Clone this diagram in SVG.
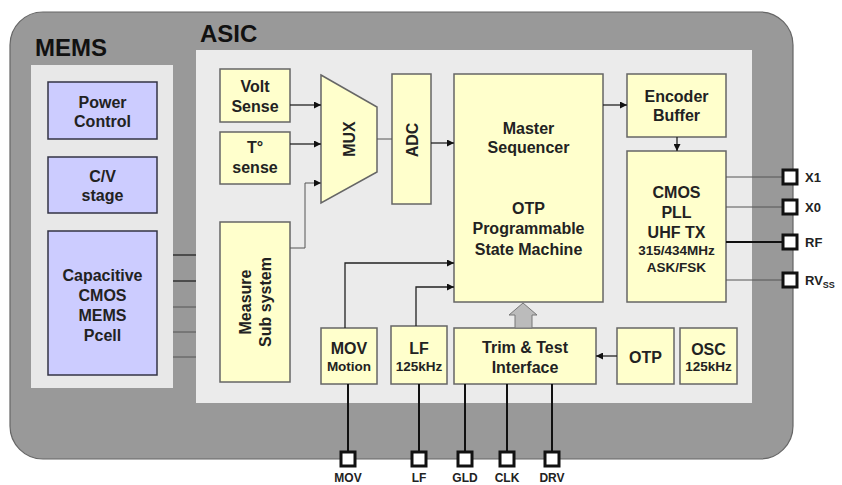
<svg xmlns="http://www.w3.org/2000/svg" width="842" height="485" viewBox="0 0 842 485">
<style>
text{font-family:"Liberation Sans",Arial,sans-serif;font-weight:bold;fill:#222;text-anchor:middle}
.t16{font-size:16px}
.t13{font-size:13.5px}
.hdr{font-size:24px;text-anchor:start;fill:#111}
.pin{font-size:13px;text-anchor:start;fill:#222}
.pinb{font-size:12px;fill:#222}
.mems{fill:#ccccff;stroke:#333344;stroke-width:1.5}
.blk{fill:#ffffcc;stroke:#666;stroke-width:1.5}
.ln{fill:none;stroke:#222;stroke-width:1.3}
.lnt{fill:none;stroke:#555;stroke-width:1}
.lnb{fill:none;stroke:#111;stroke-width:2}
.sq{fill:#fff;stroke:#111;stroke-width:3}
</style>
<defs>
<marker id="ah" viewBox="0 0 8 8" refX="8" refY="4" markerWidth="7" markerHeight="7" markerUnits="userSpaceOnUse" orient="auto">
<path d="M0,0 L8,4 L0,8 z" fill="#111"/>
</marker>
</defs>
<g id="chip">
<rect x="10" y="12" width="783" height="447" rx="33" ry="33" fill="#999" stroke="#666" stroke-width="1.2"/>
<rect x="31" y="65" width="142" height="323" fill="#e8e8e8"/>
<rect x="196" y="50" width="556" height="353" fill="#ebebeb"/>
<text class="hdr" x="35" y="56">MEMS</text>
<text class="hdr" x="200" y="42">ASIC</text>
</g>
<g id="power-control"><rect class="mems" x="48" y="82" width="109" height="57"/><text class="t16" x="102.5" y="108">Power</text><text class="t16" x="102.5" y="127">Control</text></g>
<g id="cv-stage"><rect class="mems" x="48" y="157" width="109" height="56"/><text class="t16" x="102.5" y="182">C/V</text><text class="t16" x="102.5" y="201">stage</text></g>
<g id="pcell"><rect class="mems" x="48" y="231" width="109" height="144"/><text class="t16" x="102.5" y="281">Capacitive</text><text class="t16" x="102.5" y="301">CMOS</text><text class="t16" x="102.5" y="321">MEMS</text><text class="t16" x="102.5" y="341">Pcell</text></g>
<g id="volt-sense"><rect class="blk" x="220" y="69" width="70" height="53"/><text class="t16" x="255" y="92">Volt</text><text class="t16" x="255" y="112">Sense</text></g>
<g id="t-sense"><rect class="blk" x="220" y="132" width="70" height="52"/><text class="t16" x="255" y="153">T°</text><text class="t16" x="255" y="173">sense</text></g>
<g id="measure"><rect class="blk" x="220" y="222" width="70" height="160"/><g transform="translate(255,302) rotate(-90)"><text class="t16" x="0" y="-4">Measure</text><text class="t16" x="0" y="15.5">Sub system</text></g></g>
<g id="mux"><polygon class="blk" points="321,75 377,107 377,172 321,203"/><text class="t16" transform="translate(349,139) rotate(-90)" x="0" y="5.7">MUX</text></g>
<g id="adc"><rect class="blk" x="392" y="74" width="39" height="130"/><text class="t16" transform="translate(412,140) rotate(-90)" x="0" y="5.7">ADC</text></g>
<g id="master"><rect class="blk" x="454" y="74" width="149" height="228"/><text class="t16" x="528.5" y="134">Master</text><text class="t16" x="528.5" y="153">Sequencer</text><text class="t16" x="528.5" y="214">OTP</text><text class="t16" x="528.5" y="234">Programmable</text><text class="t16" x="528.5" y="255">State Machine</text></g>
<g id="encoder"><rect class="blk" x="627" y="74" width="99" height="63"/><text class="t16" x="676.5" y="102">Encoder</text><text class="t16" x="676.5" y="121">Buffer</text></g>
<g id="cmos"><rect class="blk" x="627" y="151" width="99" height="151"/><text class="t16" x="676.5" y="198">CMOS</text><text class="t16" x="676.5" y="218">PLL</text><text class="t16" x="676.5" y="238">UHF TX</text><text class="t13" x="676.5" y="255">315/434MHz</text><text class="t13" x="676.5" y="272">ASK/FSK</text></g>
<g id="mov"><rect class="blk" x="321" y="328" width="56" height="56"/><text class="t16" x="349" y="354">MOV</text><text class="t13" x="349" y="371">Motion</text></g>
<g id="lf"><rect class="blk" x="391" y="326" width="56" height="58"/><text class="t16" x="419" y="354">LF</text><text class="t13" x="419" y="371">125kHz</text></g>
<g id="trim"><rect class="blk" x="454" y="328" width="142" height="56"/><text class="t16" x="525" y="353">Trim &amp; Test</text><text class="t16" x="525" y="373">Interface</text></g>
<g id="otp"><rect class="blk" x="617" y="328" width="57" height="56"/><text class="t16" x="645.5" y="363">OTP</text></g>
<g id="osc"><rect class="blk" x="680" y="328" width="57" height="56" stroke="#333"/><text class="t16" x="708.5" y="355">OSC</text><text class="t13" x="708.5" y="371">125kHz</text></g>
<g id="connectors">
<line class="ln" x1="173" y1="255" x2="196" y2="255"/>
<line class="ln" x1="173" y1="281" x2="196" y2="281"/>
<line class="lnt" x1="173" y1="307" x2="196" y2="307"/>
<line class="lnt" x1="173" y1="332" x2="196" y2="332"/>
<line class="lnt" x1="173" y1="357" x2="196" y2="357"/>
<line class="ln" x1="290" y1="105" x2="321" y2="105" marker-end="url(#ah)"/>
<line class="ln" x1="290" y1="144" x2="321" y2="144" marker-end="url(#ah)"/>
<polyline class="lnt" points="290,248 305,248 305,183 321,183" marker-end="url(#ah)"/>
<line class="lnt" x1="377" y1="139" x2="392" y2="139"/>
<line class="ln" x1="431" y1="143" x2="454" y2="143" marker-end="url(#ah)"/>
<line class="ln" x1="603" y1="105" x2="627" y2="105" marker-end="url(#ah)"/>
<line class="ln" x1="677" y1="137" x2="677" y2="151" marker-end="url(#ah)"/>
<polyline class="ln" points="345,328 345,263 454,263" marker-end="url(#ah)"/>
<polyline class="ln" points="416,326 416,287 454,287" marker-end="url(#ah)"/>
<line class="ln" x1="617" y1="356" x2="596" y2="356" marker-end="url(#ah)"/>
<polygon points="515,328 515,315 509,315 523,303 537,315 532,315 532,328" fill="#bbb" stroke="#777" stroke-width="1"/>
<line class="lnt" x1="726" y1="177" x2="783" y2="177"/>
<line class="lnt" x1="726" y1="207" x2="783" y2="207"/>
<line class="lnb" x1="726" y1="242" x2="783" y2="242"/>
<line class="lnt" x1="726" y1="280" x2="783" y2="280"/>
<line class="lnb" x1="348" y1="384" x2="348" y2="452"/>
<line class="lnb" x1="419" y1="384" x2="419" y2="452"/>
<line class="lnb" x1="465" y1="384" x2="465" y2="452"/>
<line class="lnb" x1="507" y1="384" x2="507" y2="452"/>
<line class="lnb" x1="552" y1="384" x2="552" y2="452"/>
</g>
<g id="pins-right">
<rect class="sq" x="783" y="170" width="14" height="14"/><text class="pin" x="805" y="182">X1</text>
<rect class="sq" x="783" y="200" width="14" height="14"/><text class="pin" x="805" y="212">X0</text>
<rect class="sq" x="783" y="235" width="14" height="14"/><text class="pin" x="805" y="247">RF</text>
<rect class="sq" x="783" y="273" width="14" height="14"/><text class="pin" x="805" y="285">RV<tspan font-size="9" dy="3">SS</tspan></text>
</g>
<g id="pins-bottom">
<rect class="sq" x="341" y="452" width="14" height="14"/><text class="pinb" x="348" y="482">MOV</text>
<rect class="sq" x="412" y="452" width="14" height="14"/><text class="pinb" x="419" y="482">LF</text>
<rect class="sq" x="458" y="452" width="14" height="14"/><text class="pinb" x="465" y="482">GLD</text>
<rect class="sq" x="500" y="452" width="14" height="14"/><text class="pinb" x="507" y="482">CLK</text>
<rect class="sq" x="545" y="452" width="14" height="14"/><text class="pinb" x="552" y="482">DRV</text>
</g>
</svg>
